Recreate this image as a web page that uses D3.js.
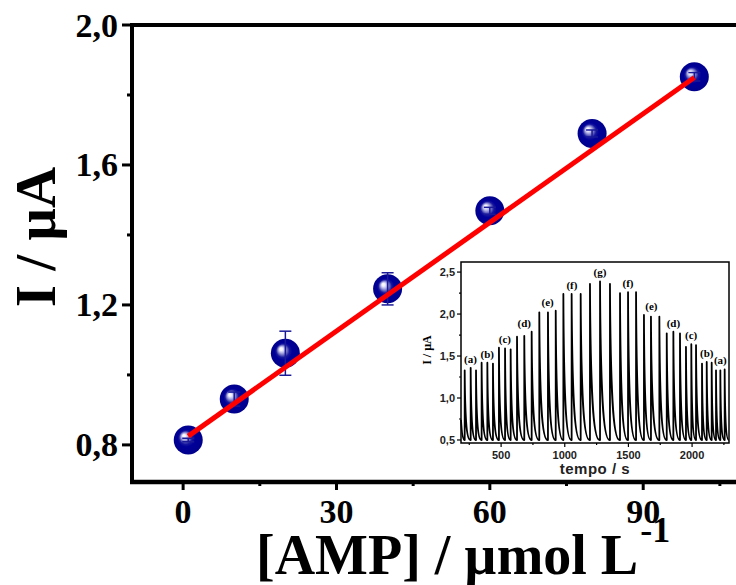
<!DOCTYPE html>
<html>
<head>
<meta charset="utf-8">
<script src="https://cdn.jsdelivr.net/npm/d3@7"></script>
<style>
html,body{margin:0;padding:0;background:#fff;}
svg{display:block;}
</style>
</head>
<body>
<svg id="chart" width="736" height="585"></svg>
<script>
// ---- Main calibration data ----
const concentration = [1, 10, 20, 40, 60, 80, 100];
const current = [0.814, 0.931, 1.062, 1.246, 1.469, 1.690, 1.852];
const currentErr = [0.005, 0.02, 0.063, 0.046, 0.01, 0.01, 0.012];
const fitX = [1, 100];
const fitY = [0.825, 1.850];
const xMajorTicks = [0, 30, 60, 90];
const xMinorTicks = [15, 45, 75, 105];
const yMajorTicks = [0.8, 1.2, 1.6, 2.0];
const yMinorTicks = [1.0, 1.4, 1.8];

// ---- Inset amperometric data ----
const peakTimes = [214, 261, 303, 347, 392, 436, 483, 531, 575, 625, 682, 740,
  800, 868, 929, 989, 1054, 1125, 1198, 1277, 1355, 1434, 1497, 1560,
  1622, 1677, 1743, 1801, 1853, 1905, 1952, 1994, 2031, 2078, 2115, 2154,
  2188, 2222, 2256];
const peakValues = [1.33, 1.36, 1.33, 1.42, 1.42, 1.41, 1.60, 1.59, 1.58,
  1.73, 1.74, 1.79, 2.02, 2.02, 2.04, 2.24, 2.24, 2.24, 2.36, 2.39, 2.36,
  2.25, 2.26, 2.26, 1.99, 1.97, 1.97, 1.77, 1.79, 1.77, 1.61, 1.64, 1.63,
  1.41, 1.43, 1.42, 1.33, 1.33, 1.34];
const groupLabels = ["(a)", "(b)", "(c)", "(d)", "(e)", "(f)", "(g)", "(f)", "(e)", "(d)", "(c)", "(b)", "(a)"];
const insetStart = [185, 0.74];
const insetBase = 0.5;
const insetYMajor = [0.5, 1.0, 1.5, 2.0, 2.5];
const insetYMinor = [0.75, 1.25, 1.75, 2.25];
const insetXMajor = [500, 1000, 1500, 2000];
const insetXMinor = [250, 750, 1250, 1750, 2250];

const svg = d3.select("#chart");
const fmt = d => d3.format(".1f")(d).replace(".", ",");

// ---- scales ----
const x = d3.scaleLinear().domain([-10, 115]).range([132, 771]);
const y = d3.scaleLinear().domain([0.694, 2.0]).range([482, 25]);

const defs = svg.append("defs");
const grad = defs.append("radialGradient").attr("id", "ball")
  .attr("cx", 0.5).attr("cy", 0.5).attr("r", 0.5).attr("fx", 0.34).attr("fy", 0.34);
[[0, "#ffffff"], [0.1, "#f4f4ff"], [0.22, "#b4b4e6"], [0.34, "#6868c0"], [0.46, "#16169e"], [0.6, "#000099"], [1, "#00008c"]]
  .forEach(s => grad.append("stop").attr("offset", s[0]).attr("stop-color", s[1]));

// ---- main axes ----
const serif = "'Liberation Serif','Times New Roman',serif";
const sans = "'Liberation Sans',Arial,sans-serif";

svg.append("line").attr("x1", 132).attr("x2", 132).attr("y1", y.range()[1] - 2).attr("y2", y.range()[0] + 2)
  .attr("stroke", "#000").attr("stroke-width", 4);
svg.append("line").attr("x1", 130).attr("x2", 771).attr("y1", 25).attr("y2", 25)
  .attr("stroke", "#000").attr("stroke-width", 4);
svg.append("line").attr("x1", 130).attr("x2", 771).attr("y1", 482).attr("y2", 482)
  .attr("stroke", "#000").attr("stroke-width", 4.5);

const yAx = svg.append("g");
yAx.selectAll(".ymaj").data(yMajorTicks).join("line")
  .attr("x1", 122).attr("x2", 132).attr("y1", d => y(d)).attr("y2", d => y(d))
  .attr("stroke", "#000").attr("stroke-width", 3);
yAx.selectAll(".ymin").data(yMinorTicks).join("line").attr("class", "ymin")
  .attr("x1", 127).attr("x2", 132).attr("y1", d => y(d)).attr("y2", d => y(d))
  .attr("stroke", "#000").attr("stroke-width", 3);
yAx.selectAll("text").data(yMajorTicks).join("text")
  .attr("x", 118).attr("y", d => y(d) + 11.5)
  .attr("text-anchor", "end").attr("font-family", serif).attr("font-weight", "bold")
  .attr("font-size", 34).text(fmt);

const xAx = svg.append("g");
xAx.selectAll(".xmaj").data(xMajorTicks).join("line")
  .attr("x1", d => x(d)).attr("x2", d => x(d)).attr("y1", 482).attr("y2", 490)
  .attr("stroke", "#000").attr("stroke-width", 3);
xAx.selectAll(".xmin").data(xMinorTicks).join("line").attr("class", "xmin")
  .attr("x1", d => x(d)).attr("x2", d => x(d)).attr("y1", 482).attr("y2", 486)
  .attr("stroke", "#000").attr("stroke-width", 3);
xAx.selectAll("text").data(xMajorTicks).join("text")
  .attr("x", d => x(d)).attr("y", 523)
  .attr("text-anchor", "middle").attr("font-family", serif).attr("font-weight", "bold")
  .attr("font-size", 34).text(d => d);

const xt = svg.append("text").attr("x", 256).attr("y", 574)
  .attr("font-family", serif).attr("font-weight", "bold").attr("font-size", 56);
xt.append("tspan").text("[AMP] / µmol L");
xt.append("tspan").attr("font-size", 36).attr("dy", -32).attr("dx", 2).text("-1");

svg.append("text").attr("transform", "translate(55,237) rotate(-90)")
  .attr("text-anchor", "middle").attr("font-family", serif).attr("font-weight", "bold")
  .attr("font-size", 57).text("I / µA");

// ---- inset ----
const ix = d3.scaleLinear().domain([185, 2290]).range([461, 729]);
const iy = d3.scaleLinear().domain([0.464, 2.62]).range([443, 262]);

const inset = svg.append("g");
inset.append("rect").attr("x", ix.range()[0]).attr("y", iy.range()[1])
  .attr("width", ix.range()[1] - ix.range()[0]).attr("height", iy.range()[0] - iy.range()[1])
  .attr("fill", "#fff").attr("stroke", "#000").attr("stroke-width", 1.5);

const p = d3.path();
p.moveTo(ix(insetStart[0]), iy(insetStart[1]));
p.bezierCurveTo(ix(insetStart[0] + 6), iy(insetBase + 0.08), ix(insetStart[0] + 14), iy(insetBase),
  ix(peakTimes[0] - 1), iy(insetBase));
peakTimes.forEach((t, i) => {
  const next = i < peakTimes.length - 1 ? peakTimes[i + 1] : ix.domain()[1];
  const dt = next - t;
  const h = peakValues[i] - insetBase;
  p.lineTo(ix(t), iy(insetBase));
  p.lineTo(ix(t), iy(peakValues[i]));
  p.bezierCurveTo(ix(t + 0.06 * dt), iy(insetBase + 0.3 * h), ix(t + 0.3 * dt), iy(insetBase),
    ix(t + 0.95 * dt), iy(insetBase));
});
inset.append("path").attr("d", p.toString()).attr("fill", "none")
  .attr("stroke", "#000").attr("stroke-width", 1.8).attr("stroke-linejoin", "round");

groupLabels.forEach((lab, g) => {
  const idx = [g * 3, g * 3 + 1, g * 3 + 2];
  const tx = d3.mean(idx, k => peakTimes[k]);
  const top = d3.max(idx, k => peakValues[k]);
  inset.append("text").attr("x", ix(tx)).attr("y", iy(top) - 5)
    .attr("text-anchor", "middle").attr("font-family", serif).attr("font-weight", "bold")
    .attr("font-size", 11).text(lab);
});

inset.selectAll(".iym").data(insetYMajor).join("line")
  .attr("x1", 457).attr("x2", 461).attr("y1", d => iy(d)).attr("y2", d => iy(d))
  .attr("stroke", "#000").attr("stroke-width", 1.2);
inset.selectAll(".iyn").data(insetYMinor).join("line").attr("class", "iyn")
  .attr("x1", 459).attr("x2", 461).attr("y1", d => iy(d)).attr("y2", d => iy(d))
  .attr("stroke", "#000").attr("stroke-width", 1.2);
inset.selectAll(".iyl").data(insetYMajor).join("text").attr("class", "iyl")
  .attr("x", 455).attr("y", d => iy(d) + 4).attr("text-anchor", "end")
  .attr("font-family", sans).attr("font-weight", "bold").attr("font-size", 11)
  .attr("fill", "#222").text(fmt);
inset.selectAll(".ixm").data(insetXMajor).join("line").attr("class", "ixm")
  .attr("x1", d => ix(d)).attr("x2", d => ix(d)).attr("y1", 443).attr("y2", 447)
  .attr("stroke", "#000").attr("stroke-width", 1.2);
inset.selectAll(".ixn").data(insetXMinor).join("line").attr("class", "ixn")
  .attr("x1", d => ix(d)).attr("x2", d => ix(d)).attr("y1", 443).attr("y2", 445)
  .attr("stroke", "#000").attr("stroke-width", 1.2);
inset.selectAll(".ixl").data(insetXMajor).join("text").attr("class", "ixl")
  .attr("x", d => ix(d)).attr("y", 459).attr("text-anchor", "middle")
  .attr("font-family", sans).attr("font-weight", "bold").attr("font-size", 11)
  .attr("fill", "#222").text(d => d);
inset.append("text").attr("x", ix(1237)).attr("y", 474).attr("text-anchor", "middle")
  .attr("font-family", sans).attr("font-weight", "bold").attr("font-size", 15)
  .attr("letter-spacing", 0.5).attr("fill", "#222").text("tempo / s");
inset.append("text").attr("transform", "translate(431,350) rotate(-90)")
  .attr("text-anchor", "middle").attr("font-family", serif).attr("font-weight", "bold")
  .attr("font-size", 12).text("I / µA");

// ---- markers, error bars, fit line ----
const pts = concentration.map((c, i) => ({c, v: current[i], e: currentErr[i]}));
svg.selectAll(".ball").data(pts).join("circle").attr("class", "ball")
  .attr("cx", d => x(d.c)).attr("cy", d => y(d.v)).attr("r", 14.5)
  .attr("fill", "url(#ball)");

const eb = svg.append("g").attr("stroke", "#1a1a99").attr("stroke-width", 1.5);
pts.forEach(d => {
  eb.append("line").attr("x1", x(d.c)).attr("x2", x(d.c)).attr("y1", y(d.v - d.e)).attr("y2", y(d.v + d.e));
  [d.v - d.e, d.v + d.e].forEach(v => eb.append("line")
    .attr("x1", x(d.c) - 6).attr("x2", x(d.c) + 6).attr("y1", y(v)).attr("y2", y(v)));
});

svg.append("path")
  .attr("d", d3.line().x(d => x(d[0])).y(d => y(d[1]))(fitX.map((v, i) => [v, fitY[i]])))
  .attr("stroke", "#ff0000").attr("stroke-width", 5).attr("fill", "none");
</script>
</body>
</html>
